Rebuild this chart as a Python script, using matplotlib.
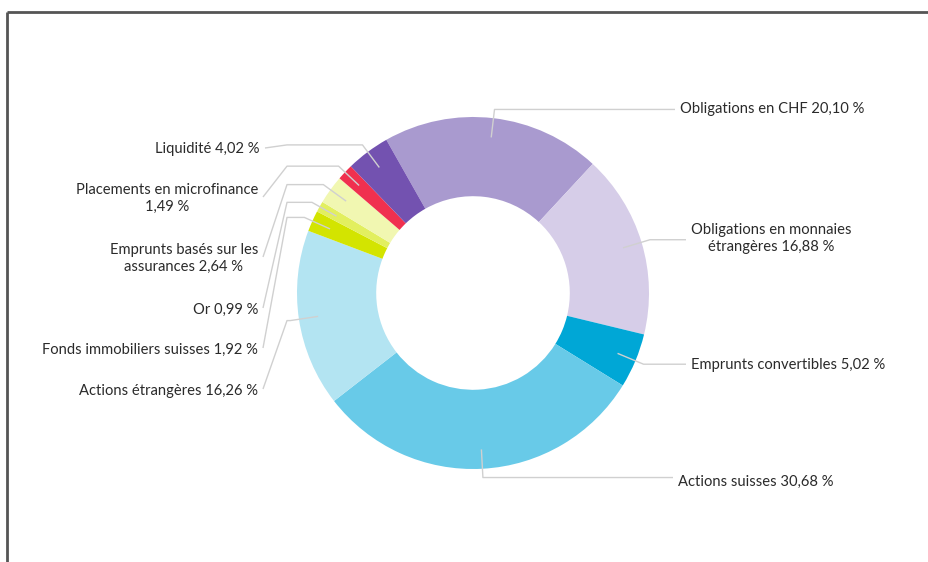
import matplotlib.pyplot as plt
import numpy as np

# allocation data
labels = ['Obligations en CHF 20,10 %',
          'Obligations en monnaies\nétrangères 16,88 %',
          'Emprunts convertibles 5,02 %',
          'Actions suisses 30,68 %',
          'Actions étrangères 16,26 %',
          'Fonds immobiliers suisses 1,92 %',
          'Or 0,99 %',
          'Emprunts basés sur les\nassurances 2,64 %',
          'Placements en microfinance\n1,49 %',
          'Liquidité 4,02 %']
values = [20.10, 16.88, 5.02, 30.68, 16.26, 1.92, 0.99, 2.64, 1.49, 4.02]
colors = ['#a99acf', '#d6cde8', '#00a7d6', '#68cae8', '#b3e4f2',
          '#d3e400', '#e2ef5f', '#f1f7b1', '#f0304f', '#7352b0']

H = 562
cx, cy, R = 473, H - 293, 176
start = 119.5

# label placement (pixel coords from top): side, text x, text y
label_pos = [('r', 680, 108), ('r', 691, 237), ('r', 691, 363), ('r', 678, 480),
             ('l', 258, 389), ('l', 258, 348), ('l', 258, 308), ('l', 258, 257),
             ('l', 258, 197), ('l', 260, 148)]

fig = plt.figure(figsize=(9.29, 5.62), dpi=100)
ax = fig.add_axes([0, 0, 1, 1])
wedges, _ = ax.pie(values, colors=colors, startangle=start, counterclock=False,
                   center=(cx, cy), radius=R, frame=True,
                   wedgeprops=dict(width=R * 0.45, linewidth=0))
ax.set_xlim(0, 929)
ax.set_ylim(0, H)
ax.set_aspect('equal')
ax.axis('off')

for w, lab, (side, tx, ty) in zip(wedges, labels, label_pos):
    mid = np.deg2rad((w.theta1 + w.theta2) / 2)
    ax_, ay_ = cx + 0.89 * R * np.cos(mid), cy + 0.89 * R * np.sin(mid)
    ex, ey = cx + 1.05 * R * np.cos(mid), cy + 1.05 * R * np.sin(mid)
    ty = H - ty
    if side == 'r':
        xs = [ax_, ex, tx - 5]
        ys = [ay_, ey, ey]
        ha = 'left'
    else:
        xs = [ax_, ex, 287, tx + 5]
        ys = [ay_, ey, ey, ty]
        ha = 'right'
    ax.plot(xs, ys, color='#d0d0d0', lw=1, solid_capstyle='butt')
    ax.text(tx, ty - 1.5, lab, ha=ha, va='center', multialignment='center',
            fontsize=10.6, family='Lato', color='#2a2a2a', linespacing=1.3)

# frame lines (top and left)
ax.plot([7, 7], [0, H - 12], color='#555555', lw=2, solid_capstyle='butt')
ax.plot([7, 929], [H - 12, H - 12], color='#555555', lw=2, solid_capstyle='butt')

fig.savefig('out.png', dpi=100)
